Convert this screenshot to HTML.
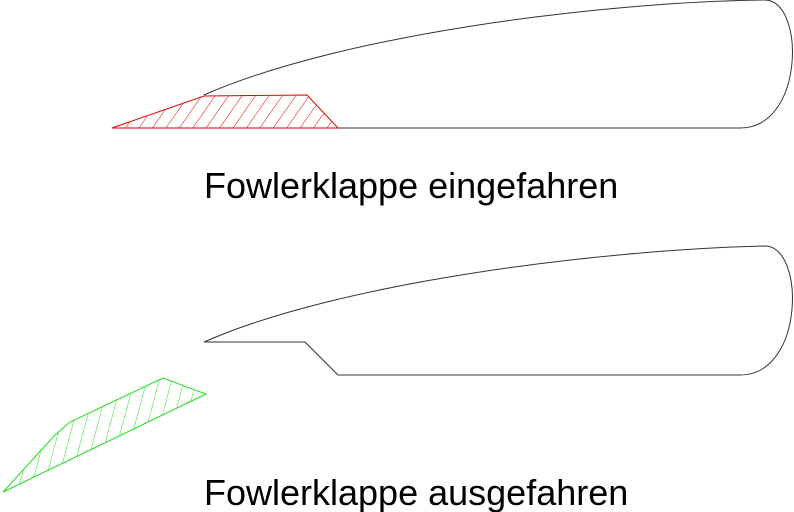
<!DOCTYPE html>
<html><head><style>body{margin:0;background:#fff}svg{display:block}</style></head><body>
<svg width="794" height="512" viewBox="0 0 794 512" xmlns="http://www.w3.org/2000/svg">
<defs>
<pattern id="hr" width="11" height="11" patternUnits="userSpaceOnUse" patternTransform="rotate(35)">
<line x1="0" y1="0" x2="0" y2="11" stroke="#e00000" stroke-width="1"/></pattern>
<pattern id="hg" width="12" height="12" patternUnits="userSpaceOnUse" patternTransform="rotate(15)">
<line x1="0" y1="0" x2="0" y2="12" stroke="#22dd22" stroke-width="1"/></pattern>
</defs>
<path d="M112,128 L740,128 C805,128 805,0 765,0 C600,2 340,35 204,95" fill="none" stroke="#333" stroke-width="1"/>
<polygon points="112,128 204,96 307,95 338,128" fill="url(#hr)" stroke="#e00000" stroke-width="1"/>
<text x="204" y="198" font-family="Liberation Sans, sans-serif" font-size="36" fill="#000">Fowlerklappe eingefahren</text>
<path d="M204,342 L305,342 L338,375 L740,375 C805,375 805,246 765,246 C600,250 340,282 204,342" fill="none" stroke="#333" stroke-width="1"/>
<polygon points="3,492 54,436 70,422 163,378 206,394" fill="url(#hg)" stroke="#22dd22" stroke-width="1"/>
<text x="204" y="505" font-family="Liberation Sans, sans-serif" font-size="36" fill="#000">Fowlerklappe ausgefahren</text>
</svg>
</body></html>
